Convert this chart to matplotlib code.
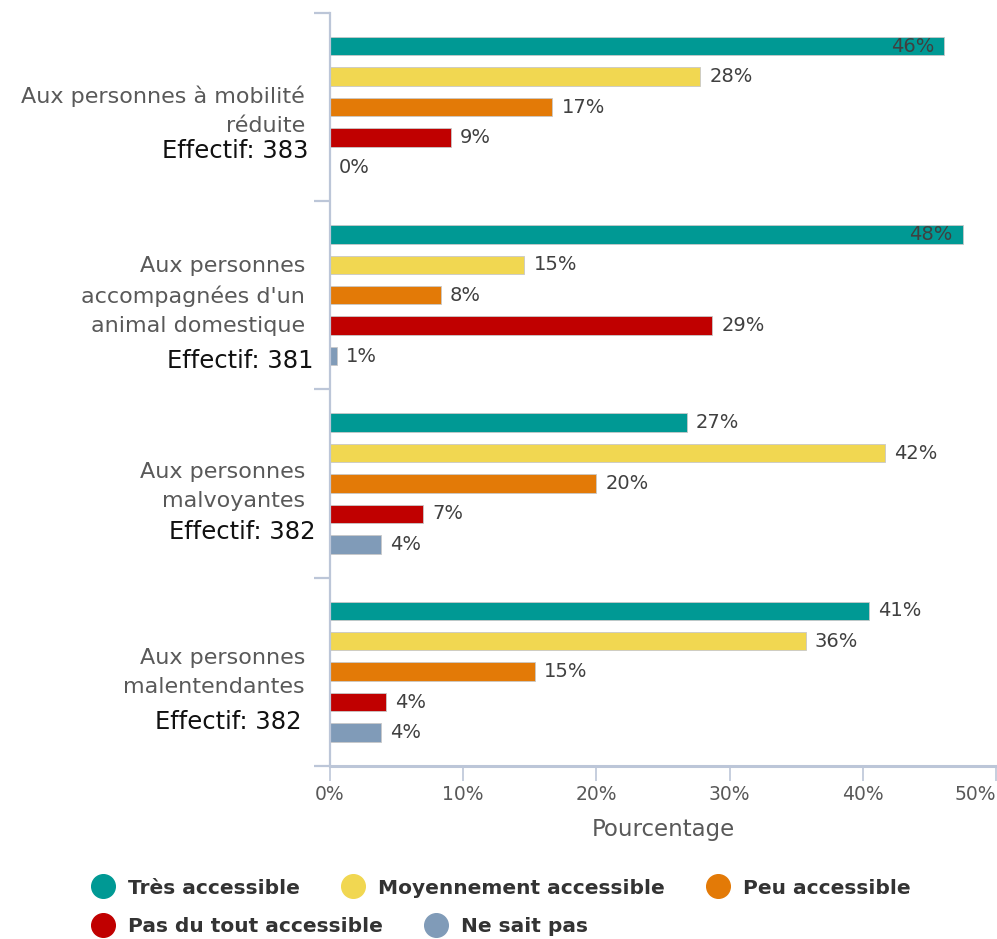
import math
import matplotlib
matplotlib.use("Agg")
import matplotlib.pyplot as plt
from matplotlib.lines import Line2D
import numpy as np

# Survey data: share of answers (%) per accessibility level
categories = [
    "Aux personnes à mobilité\nréduite",
    "Aux personnes\naccompagnées d'un\nanimal domestique",
    "Aux personnes\nmalvoyantes",
    "Aux personnes\nmalentendantes",
]
effectifs = [383, 381, 382, 382]
series_names = [
    "Très accessible",
    "Moyennement accessible",
    "Peu accessible",
    "Pas du tout accessible",
    "Ne sait pas",
]
tres_accessible = [46.1, 47.5, 26.8, 40.5]
moyennement_accessible = [27.8, 14.6, 41.7, 35.7]
peu_accessible = [16.7, 8.3, 20.0, 15.4]
pas_du_tout_accessible = [9.1, 28.7, 7.0, 4.2]
ne_sait_pas = [0.0, 0.5, 3.8, 3.8]
x_ticks = [0, 10, 20, 30, 40, 50]
x_label = "Pourcentage"

series_values = [tres_accessible, moyennement_accessible, peu_accessible,
                 pas_du_tout_accessible, ne_sait_pas]
colors = ["#009994", "#F1D751", "#E37A07", "#C00000", "#809BB8"]

axis_color = "#BCC6D8"
label_gray = "#595959"
value_gray = "#404040"

W, H = 997, 939
fig = plt.figure(figsize=(W / 100, H / 100), dpi=100)
ax = fig.add_axes([330 / W, (H - 765.7) / H, 666 / W, 752.7 / H])

pitch = 0.1617
bar_h = 0.098
n_series = len(series_values)
y_base = np.arange(len(categories))


def pct_label(v):
    return f"{math.floor(v + 0.5)}%"


for j, (vals, col) in enumerate(zip(series_values, colors)):
    ys = y_base + (j - (n_series - 1) / 2) * pitch
    ax.barh(ys, vals, height=bar_h, color=col, edgecolor="#C8C8C8",
            linewidth=0.6, zorder=2)
    for y, v in zip(ys, vals):
        if v > 45:
            ax.annotate(pct_label(v), xy=(v, y), xytext=(-10, 0),
                        textcoords="offset pixels", ha="right", va="center",
                        fontsize=14, color=value_gray, zorder=3)
        else:
            ax.annotate(pct_label(v), xy=(v, y), xytext=(9, 0),
                        textcoords="offset pixels", ha="left", va="center",
                        fontsize=14, color=value_gray, zorder=3)

ax.set_xlim(0, 50)
ax.set_ylim(len(categories) - 0.5, -0.5)

# Axes styling
for side in ("top", "right"):
    ax.spines[side].set_visible(False)
ax.spines["left"].set_color(axis_color)
ax.spines["left"].set_linewidth(1.6)
ax.spines["bottom"].set_color(axis_color)
ax.spines["bottom"].set_linewidth(2.2)

ax.set_xticks(x_ticks)
ax.set_xticklabels([f"{t}%" for t in x_ticks])
ax.tick_params(axis="x", direction="out", length=11, width=1.2,
               color=axis_color, labelsize=13.5, labelcolor=label_gray, pad=3)
# keep the last tick label inside the figure
ax.get_xticklabels()[-1].set_horizontalalignment("right")
ax.get_xticklabels()[-1].set_x(x_ticks[-1])

# Group separators on the category axis
ax.set_yticks([])
ax.set_yticks(np.arange(len(categories) + 1) - 0.5, minor=True)
ax.tick_params(axis="y", which="minor", direction="out", length=11.5,
               width=1.6, color=axis_color, labelleft=False)

ax.set_xlabel(x_label, fontsize=16.5, color=label_gray, labelpad=10)

# Category labels with sample sizes
grp_px = 188.2
label_offsets = [3.5, 0.5, 3.0, 1.0]
eff_offsets = [44, 65.5, 48.5, 50.5]
eff_right = [308, 313, 315, 301]
ytrans = ax.get_yaxis_transform()
for i, (cat, n) in enumerate(zip(categories, effectifs)):
    ax.text((305 - 330) / 666, i + label_offsets[i] / grp_px, cat,
            transform=ytrans, ha="right", va="center", fontsize=16,
            color=label_gray, linespacing=1.55)
    ax.text((eff_right[i] - 330) / 666, i + eff_offsets[i] / grp_px,
            f"Effectif: {n}", transform=ytrans, ha="right", va="center",
            fontsize=17.5, color="#111111")

# Legend, two rows
handles = [Line2D([], [], marker="o", linestyle="", markersize=17,
                  markerfacecolor=c, markeredgecolor=c) for c in colors]
leg_kw = dict(frameon=False, handlelength=1.0, handletextpad=0.75,
              columnspacing=2.12, borderpad=0, borderaxespad=0,
              loc="center left",
              prop={"weight": "bold", "size": 14.5})
leg1 = fig.legend(handles[:3], series_names[:3], ncol=3,
                  bbox_to_anchor=(93 / W, 1 - 888 / H), **leg_kw)
for t in leg1.get_texts():
    t.set_color("#333333")
leg2 = fig.legend(handles[3:], series_names[3:], ncol=2,
                  bbox_to_anchor=(93 / W, 1 - 927 / H), **leg_kw)
for t in leg2.get_texts():
    t.set_color("#333333")

fig.savefig("out.png", dpi=100)
